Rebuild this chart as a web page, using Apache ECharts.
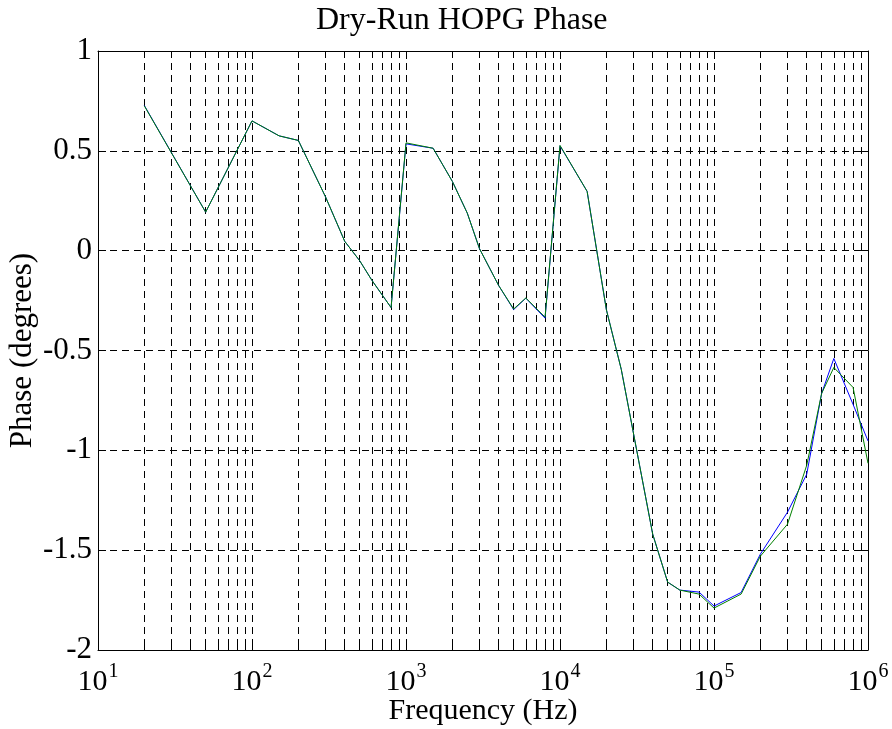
<!DOCTYPE html>
<html><head><meta charset="utf-8">
<script src="https://cdn.jsdelivr.net/npm/echarts@6/dist/echarts.min.js"></script>
<style>html,body{margin:0;padding:0;background:#fff}#c{width:892px;height:729px}</style>
</head><body><div id="c"></div>
<script>
const titleText = 'Dry-Run HOPG Phase';
const xName = 'Frequency (Hz)';
const yName = 'Phase (degrees)';
const freqs = [20,50,100,150,200,300,400,500,600,800,1000,1500,2000,2500,3000,4000,5000,6000,8000,10000,15000,20000,25000,40000,50000,60000,80000,100000,150000,200000,300000,400000,500000,600000,800000,1000000];
const phaseBlue = [0.727,0.193,0.65,0.575,0.552,0.27,0.047,-0.05,-0.148,-0.285,0.535,0.513,0.347,0.188,0.01,-0.175,-0.295,-0.238,-0.338,0.525,0.297,-0.295,-0.595,-1.42,-1.66,-1.70,-1.71,-1.78,-1.712,-1.52,-1.31,-1.12,-0.715,-0.54,-0.77,-0.953];
const phaseGreen = [0.725,0.193,0.65,0.575,0.552,0.27,0.047,-0.05,-0.148,-0.285,0.54,0.513,0.347,0.188,0.01,-0.175,-0.292,-0.237,-0.333,0.527,0.297,-0.295,-0.595,-1.42,-1.66,-1.70,-1.72,-1.79,-1.72,-1.53,-1.37,-1.075,-0.715,-0.585,-0.685,-1.065];
const yTicks = {min: -2, max: 1, interval: 0.5};
const xRange = {min: 10, max: 1000000};

const FONT = '"Liberation Serif", "DejaVu Serif", serif';
const chart = echarts.init(document.getElementById('c'), null, {renderer: 'canvas'});
const dash = {color: '#000', type: [7, 5], width: 1};
function xAxisBase(pos, labels) {
  return {
    type: 'log', logBase: 10, min: xRange.min, max: xRange.max, position: pos,
    axisLine: {show: true, onZero: false, lineStyle: {color: '#000', width: 1}},
    axisTick: {show: true, inside: true, length: 8, lineStyle: {color: '#000'}},
    minorTick: {show: true, splitNumber: 9, length: 5, lineStyle: {color: '#000'}},
    splitLine: {show: labels, lineStyle: dash},
    minorSplitLine: {show: labels, lineStyle: dash},
    axisLabel: labels ? {
      show: true, margin: 7,
      formatter: v => '{b|10}{s|' + Math.round(Math.log10(v)) + '}',
      rich: {
        b: {fontFamily: FONT, fontSize: 30, color: '#000', padding: [10, 0, 0, 0]},
        s: {fontFamily: FONT, fontSize: 20, color: '#000', padding: [0, 0, 10, 1]}
      }
    } : {show: false},
    name: labels ? xName : '', nameLocation: 'middle', nameGap: 46, nameMoveOverlap: false,
    nameTextStyle: {fontFamily: FONT, fontSize: 30, color: '#000'}
  };
}
function yAxisBase(pos, labels) {
  return {
    type: 'value', min: yTicks.min, max: yTicks.max, interval: yTicks.interval, position: pos,
    axisLine: {show: true, onZero: false, lineStyle: {color: '#000', width: 1}},
    axisTick: {show: true, inside: true, length: 8, lineStyle: {color: '#000'}},
    splitLine: {show: labels, lineStyle: dash},
    axisLabel: labels ? {show: true, margin: 6, fontFamily: FONT, fontSize: 31, color: '#000',
      formatter: v => String(v)} : {show: false},
    name: labels ? yName : '', nameLocation: 'middle', nameGap: 60, nameMoveOverlap: false,
    nameTextStyle: {fontFamily: FONT, fontSize: 31, color: '#000'}
  };
}
const option = {
  animation: false,
  backgroundColor: '#fff',
  title: {text: titleText, left: 311, top: 0,
    textStyle: {fontFamily: FONT, fontSize: 32, fontWeight: 'normal', color: '#000'}},
  grid: {left: 98, right: 24, top: 51, bottom: 79, containLabel: false, outerBoundsMode: 'none'},
  xAxis: [xAxisBase('bottom', true), xAxisBase('top', false)],
  yAxis: [yAxisBase('left', true), yAxisBase('right', false)],
  series: [
    {type: 'line', name: 'blue', xAxisIndex: 0, yAxisIndex: 0, showSymbol: false, symbol: 'none',
     lineStyle: {color: '#0000ff', width: 1}, data: freqs.map((f, i) => [f, phaseBlue[i]])},
    {type: 'line', name: 'green', xAxisIndex: 0, yAxisIndex: 0, showSymbol: false, symbol: 'none',
     lineStyle: {color: '#008000', width: 1}, data: freqs.map((f, i) => [f, phaseGreen[i]])}
  ]
};
chart.setOption(option);
</script></body></html>
